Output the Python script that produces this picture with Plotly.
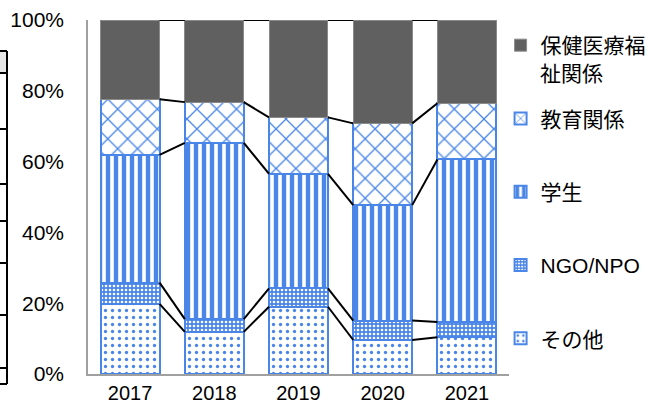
import plotly.graph_objects as go

years = ["2017", "2018", "2019", "2020", "2021"]

# shares (%) per group, bottom to top of each stack
other = [19.8, 11.9, 19.0, 9.6, 10.4]
ngo = [6.0, 3.6, 5.2, 5.5, 4.3]
student = [36.1, 49.8, 32.3, 32.6, 45.9]
education = [15.7, 11.5, 16.0, 23.1, 15.9]
health = [22.4, 23.2, 27.5, 29.2, 23.5]

y_ticks = [0, 20, 40, 60, 80, 100]
y_tick_text = ["0%", "20%", "40%", "60%", "80%", "100%"]

# the first legend label wraps onto a second line
health_label = "保健医療福"
health_label_cont = "祉関係"

BLUE = "#4A86E8"
GREY = "#606060"
BAR_W = 0.7

series = [
    ("その他", other, dict(shape=".", fgcolor=BLUE, bgcolor="white", size=7, solidity=0.18, fgopacity=1), BLUE),
    ("NGO/NPO", ngo, dict(shape=".", fgcolor="white", bgcolor=BLUE, size=4, solidity=0.35, fgopacity=1), BLUE),
    ("学生", student, dict(shape="|", fgcolor=BLUE, bgcolor="white", size=8, solidity=0.55, fgopacity=1), BLUE),
    ("教育関係", education, dict(shape="x", fgcolor=BLUE, bgcolor="white", size=14, solidity=0.18, fgopacity=1), BLUE),
    (health_label, health, None, GREY),
]

x_pos = list(range(len(years)))
fig = go.Figure()

n = len(series)
for i, (name, vals, pattern, col) in enumerate(series):
    marker = dict(color=col if pattern is None else "white",
                  line=dict(color=BLUE if pattern else "#8a8a8a", width=2 if pattern else 1))
    if pattern:
        marker["pattern"] = dict(fillmode="replace", **pattern)
    fig.add_trace(go.Bar(
        x=x_pos, y=vals, name=name, width=BAR_W, marker=marker,
        legendgroup=f"g{i}", legendrank=n - i,
    ))

# series lines joining the segment tops of neighbouring bars
cum = [0.0] * len(years)
for name, vals, _, _ in series:
    cum = [c + v for c, v in zip(cum, vals)]
    for j in range(len(years) - 1):
        fig.add_trace(go.Scatter(
            x=[x_pos[j] + BAR_W / 2, x_pos[j + 1] - BAR_W / 2],
            y=[cum[j], cum[j + 1]],
            mode="lines", line=dict(color="black", width=2),
            showlegend=False, hoverinfo="skip",
        ))

# edge of the neighbouring table on the left
L, T, PW, PH = 88, 20, 421, 354
def px(x):
    return (x - L) / PW
def py(y):
    return (T + PH - y) / PH

shapes = [
    dict(type="rect", xref="paper", yref="paper", x0=px(-2), x1=px(7), y0=py(73), y1=py(51),
         fillcolor="#e6e6e6", line=dict(width=0), layer="below"),
    dict(type="line", xref="paper", yref="paper", x0=px(7), x1=px(7), y0=py(51), y1=py(384),
         line=dict(color="black", width=2)),
]
for yy in [51, 73, 129, 184, 221, 263, 315, 368, 384]:
    shapes.append(dict(type="line", xref="paper", yref="paper", x0=px(-2), x1=px(7),
                       y0=py(yy), y1=py(yy), line=dict(color="black", width=2)))

FONT = "Liberation Sans, Arial, Noto Sans CJK JP"

fig.update_layout(
    width=661, height=403,
    margin=dict(l=L, r=661 - L - PW, t=T, b=403 - T - PH, autoexpand=False),
    barmode="stack",
    paper_bgcolor="white", plot_bgcolor="white",
    font=dict(family=FONT, size=21, color="black"),
    showlegend=True,
    legend=dict(
        x=0.98, y=py(25), xanchor="left", yanchor="top",
        traceorder="grouped", tracegroupgap=43, maxheight=1.0,
        font=dict(family=FONT, size=21, color="black"),
        bgcolor="rgba(0,0,0,0)", itemwidth=30,
    ),
    annotations=[dict(
        text=health_label_cont, xref="paper", yref="paper",
        x=px(538), y=py(73), xanchor="left", yanchor="middle",
        showarrow=False, font=dict(family=FONT, size=21, color="black"),
    )],
    xaxis=dict(
        range=[-0.5, 4.5], tickvals=x_pos, ticktext=years, automargin=False,
        showline=True, linecolor="#a0a0a0", linewidth=1.5,
        showgrid=False, zeroline=False, ticks="", tickfont=dict(size=20),
    ),
    yaxis=dict(
        range=[0, 100], tickvals=y_ticks, ticktext=y_tick_text, automargin=False,
        showline=True, linecolor="#a0a0a0", linewidth=1.5,
        showgrid=False, zeroline=False, ticks="", ticklabelstandoff=18,
    ),
    shapes=shapes,
)

fig.write_html("out.html")
